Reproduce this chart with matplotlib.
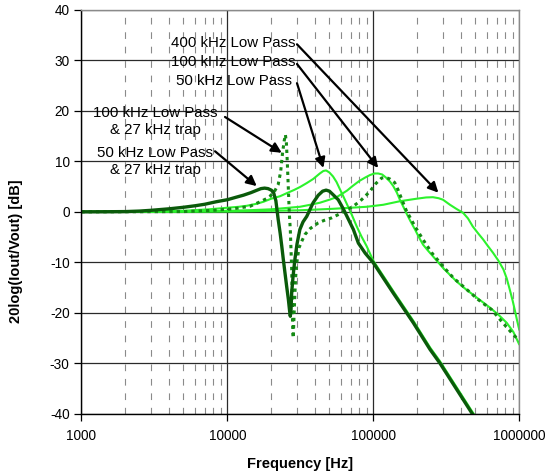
import numpy as np
import matplotlib
matplotlib.use("Agg")
import matplotlib.pyplot as plt
from matplotlib.ticker import FixedLocator, NullFormatter

plt.rcParams['font.family'] = ['Liberation Sans', 'DejaVu Sans']
plt.rcParams['axes.unicode_minus'] = False

# --- values --------------------------------------------------------------
# 400 kHz low pass
f_400 = [1000, 10000, 20000, 31000, 53000, 90000, 117000, 152000, 198000,
         230000, 256000, 280000, 300000, 335000, 370000, 412000, 445000,
         480000, 520000, 566000, 610000, 660000, 720000, 778000, 820000,
         860000, 900000, 930000, 965000, 1000000]
db_400 = [0.0, 0.05, 0.2, 0.3, 0.6, 1.0, 1.4, 2.1, 2.6,
          2.85, 2.9, 2.7, 2.4, 1.4, 0.6, -0.2, -1.3,
          -2.9, -4.2, -5.5, -6.8, -8.1, -9.7, -11.4, -13.2,
          -15.4, -17.6, -19.4, -21.5, -23.4]

# 100 kHz low pass
f_100 = [1000, 5000, 10000, 15000, 20000, 25000, 31400, 37000, 43000, 50000,
         56000, 62000, 66000, 72000, 80000, 88000, 95000, 102000, 108000,
         115000, 122000, 130000, 137000, 145000, 152000, 160000, 168000,
         180000, 193000, 205000, 219000, 237000, 256000, 278000, 300000,
         335000, 372000, 420000, 480000, 550000, 630000, 720000, 820000,
         910000, 1000000]
db_100 = [0.0, 0.05, 0.2, 0.35, 0.5, 0.75, 1.0, 1.4, 1.8, 2.4,
          2.9, 3.7, 4.2, 5.1, 6.1, 6.8, 7.3, 7.6, 7.6,
          7.4, 6.8, 6.0, 5.1, 3.8, 2.4, 1.1, -0.2,
          -1.9, -3.5, -5.0, -6.5, -7.7, -8.8, -10.0, -11.1,
          -12.5, -13.8, -15.1, -16.4, -17.7, -19.0, -20.4, -22.0,
          -23.8, -26.3]

# 50 kHz low pass
f_50 = [1000, 3000, 5000, 7500, 9900, 12000, 13600, 15900, 17700, 20000,
        23000, 26000, 28500, 31400, 35000, 38700, 43000, 45500, 47500, 50000,
        53000, 56000, 59000, 62000, 66000, 71000, 77000, 83000, 90000, 95000,
        100000, 137000, 188000, 245000, 286000, 471000, 500000]
db_50 = [0.0, 0.05, 0.2, 0.5, 0.8, 1.0, 1.2, 1.6, 2.0, 2.6,
         3.1, 3.8, 4.3, 4.9, 5.7, 6.5, 7.6, 8.1, 8.2, 7.8,
         7.0, 5.9, 4.5, 3.2, 1.5, -0.5, -2.9, -4.9, -6.8, -8.3,
         -9.7, -15.7, -21.6, -26.9, -29.6, -39.4, -40.5]

# 50 kHz low pass & 27 kHz trap
f_50t = [1000, 1500, 2000, 2500, 3000, 4000, 5000, 6000, 7000, 8400,
         10000, 11500, 12900, 14500, 16000, 17000, 18000, 19000, 20000, 20700,
         21500, 22300, 23000, 23600, 24200, 24800, 25500, 26200, 26700, 27000,
         27300, 27600, 28200, 29000, 30000, 31400, 33000, 35000, 38700, 42000,
         45000, 47500, 50000, 53000, 57500, 62000, 66000, 73000, 79000, 88000,
         100000, 137000, 188000, 245000, 286000, 471000, 500000]
db_50t = [0.0, 0.02, 0.05, 0.15, 0.3, 0.6, 0.9, 1.2, 1.5, 2.0,
          2.4, 2.9, 3.3, 3.8, 4.3, 4.6, 4.7, 4.6, 4.3, 3.9,
          2.2, -1.5, -4.2, -6.8, -9.5, -12.0, -14.8, -17.4, -19.6, -20.7,
          -19.5, -16.0, -12.8, -9.5, -6.4, -3.5, -2.0, -0.9, 1.8, 3.3,
          4.1, 4.3, 4.1, 3.4, 2.4, 0.7, -0.9, -3.5, -6.2, -8.2,
          -10.1, -16.1, -22.0, -27.3, -30.0, -39.8, -41.0]

# 100 kHz low pass & 27 kHz trap
f_100t = [1000, 5000, 8000, 11000, 14300, 16800, 18500, 19600, 21000, 22300,
          23200, 23900, 24500, 25000, 25400, 25700, 26000, 26300, 26600, 27000,
          27300, 27600, 27800, 27950, 28100, 28300, 28600, 29000, 29400, 29900,
          31000, 32500, 34000, 37000, 41900, 46000, 51800, 58000, 65000, 72000,
          81000, 88000, 95000, 104000, 114000, 122000, 130000, 140000, 148000,
          157000, 168000, 180000, 193000, 219000, 251000, 300000, 354000,
          437000, 523000, 647000, 756000, 906000, 1000000]
db_100t = [0.0, 0.05, 0.3, 0.6, 1.1, 2.0, 2.6, 3.1, 4.0, 5.4,
           8.0, 11.7, 14.0, 15.3, 13.5, 10.4, 6.8, 3.1, -0.5, -3.5,
           -7.5, -11.4, -16.5, -21.4, -24.0, -25.0, -21.0, -16.5, -12.8, -10.1,
           -7.1, -5.7, -4.5, -3.3, -2.2, -1.7, -1.2, -0.5, 0.3, 1.0,
           2.1, 3.1, 4.1, 5.6, 6.7, 6.8, 6.5, 5.8, 4.3,
           2.4, 0.3, -1.3, -2.9, -5.5, -8.1, -10.8, -13.1,
           -15.4, -17.4, -19.4, -21.7, -24.3, -25.5]

x_ticks = [1000, 10000, 100000, 1000000]
x_tick_labels = ['1000', '10000', '100000', '1000000']
y_ticks = [-40, -30, -20, -10, 0, 10, 20, 30, 40]

# annotations: label, text anchor (f, dB), alignment, arrow start, arrow tip
notes = [
    ('400 kHz Low Pass', (29100, 33.5), 'right', (30000, 33.2), (279000, 3.8)),
    ('100 kHz Low Pass', (29100, 29.6), 'right', (30000, 29.3), (108000, 8.7)),
    ('50 kHz Low Pass', (27700, 25.9), 'right', (30000, 25.5), (45500, 8.7)),
    ('100 kHz Low Pass\n& 27 kHz trap', (3200, 17.9), 'center', (9640, 18.8), (23600, 11.7)),
    ('50 kHz Low Pass\n& 27 kHz trap', (3200, 10.0), 'center', (8240, 12.0), (15900, 5.1)),
]

LIGHT = '#2cf22c'
DARK = '#0a5a0a'
DOTTED = '#148a14'

fig = plt.figure(figsize=(5.54, 4.73), dpi=100)
ax = fig.add_axes([0.1468, 0.1254, 0.7906, 0.8535])

ax.set_xscale('log')
ax.set_xlim(1000, 1000000)
ax.set_ylim(-40, 40)

# grid
minor = [m * 10 ** e for e in range(3, 6) for m in range(2, 10)]
ax.xaxis.set_minor_locator(FixedLocator(minor))
ax.xaxis.set_minor_formatter(NullFormatter())
ax.grid(True, which='minor', axis='x', color='#8a8a8a', lw=0.8,
        linestyle=(0, (6, 7)))
ax.grid(True, which='major', axis='both', color='#2a2a2a', lw=0.9)
ax.set_axisbelow(True)

# curves
kw = dict(solid_joinstyle='round', solid_capstyle='round')
ax.plot(f_400, db_400, color=LIGHT, lw=1.5, **kw)
ax.plot(f_100, db_100, color=LIGHT, lw=1.5, **kw)
ax.plot(f_50, db_50, color=LIGHT, lw=1.5, **kw)
ax.plot(f_100t, db_100t, color=DOTTED, lw=2.2, linestyle=(0, (1.1, 1.3)))
ax.plot(f_50t, db_50t, color=DARK, lw=2.4, **kw)

# annotations
for label, pos, ha, start, tip in notes:
    ax.text(pos[0], pos[1], label, ha=ha, va='center', fontsize=10.8,
            linespacing=1.3, multialignment='center')
    ax.annotate('', xy=tip, xytext=start,
                arrowprops=dict(arrowstyle='-|>', color='black', lw=1.6,
                                mutation_scale=15, shrinkA=0, shrinkB=0))

# axes styling
ax.set_xticks(x_ticks)
ax.set_xticklabels(x_tick_labels)
ax.set_yticks(y_ticks)
ax.tick_params(axis='both', which='major', labelsize=9.8, direction='out',
               length=5, width=0.9, color='black')
ax.tick_params(axis='x', which='major', pad=6)
ax.tick_params(axis='y', which='major', pad=3.5)
ax.tick_params(axis='x', which='minor', length=0)

ax.spines['left'].set_color('black')
ax.spines['bottom'].set_color('black')
ax.spines['top'].set_color('#8a8a8a')
ax.spines['right'].set_color('#8a8a8a')
for s in ax.spines.values():
    s.set_linewidth(1.0)

ax.set_xlabel('Frequency [Hz]', fontsize=10.5, fontweight='bold', labelpad=10)
ax.set_ylabel('20log(Iout/Vout) [dB]', fontsize=10.5, fontweight='bold')
ax.yaxis.set_label_coords(-0.134, 0.403)

fig.savefig('out.png', dpi=100)
